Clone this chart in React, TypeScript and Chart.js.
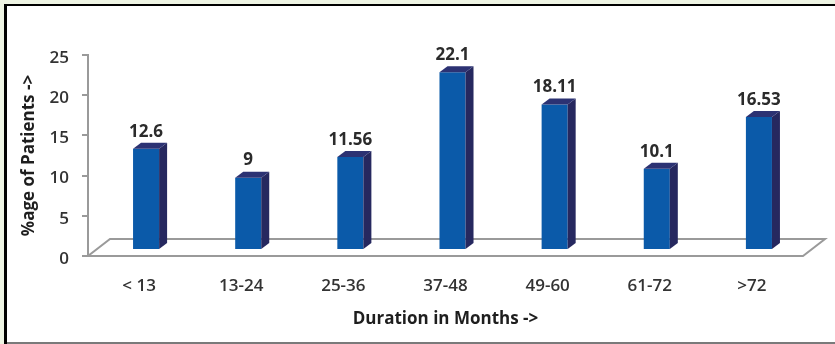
import React, { useEffect, useRef } from "react";
import { Chart, registerables } from "chart.js";

Chart.register(...registerables);

const categories = ["< 13", "13-24", "25-36", "37-48", "49-60", "61-72", ">72"];
const values = [12.6, 9, 11.56, 22.1, 18.11, 10.1, 16.53];
const valueLabels = ["12.6", "9", "11.56", "22.1", "18.11", "10.1", "16.53"];
const yTicks = { min: 0, max: 25, step: 5 };
const xTitle = "Duration in Months ->";
const yTitle = "%age of Patients ->";

const FONT = "'Open Sans', sans-serif";
const FRONT = "#0b5aa9";
const SIDE = "#26285f";
const TOP = "#2c3273";
const FLOOR = "#9a9a9a";
const FLOOR_DX = 22;
const FLOOR_DY = -17;
const BAR_SHIFT_X = 7;
const BAR_SHIFT_Y = -6;
const BAR_DX = 8;
const BAR_DY = -6;

const threeD = {
  id: "threeD",
  beforeDraw(chart: any) {
    const ctx = chart.ctx;
    const W = chart.width;
    const H = chart.height;
    ctx.save();
    ctx.fillStyle = "#eef4e3";
    ctx.fillRect(0, 0, W, H);
    ctx.fillStyle = "#ffffff";
    ctx.fillRect(4, 4, W - 4, H - 4);
    ctx.fillStyle = "#000000";
    ctx.fillRect(4, 4, 3, H - 4);
    ctx.fillRect(4, 4, W - 4, 2);
    ctx.fillStyle = "#7a7a7a";
    ctx.fillRect(7, H - 2, W - 7, 2);
    ctx.restore();
  },
  beforeDatasetsDraw(chart: any) {
    const ctx = chart.ctx;
    const { left, right, bottom } = chart.chartArea;
    ctx.save();
    ctx.strokeStyle = FLOOR;
    ctx.lineWidth = 2;
    ctx.lineJoin = "miter";
    ctx.beginPath();
    ctx.moveTo(left, bottom);
    ctx.lineTo(right, bottom);
    ctx.lineTo(right + FLOOR_DX, bottom + FLOOR_DY);
    ctx.lineTo(left + FLOOR_DX, bottom + FLOOR_DY);
    ctx.closePath();
    ctx.stroke();
    ctx.restore();
    ctx.save();
    ctx.translate(BAR_SHIFT_X, BAR_SHIFT_Y);
  },
  afterDatasetsDraw(chart: any) {
    const ctx = chart.ctx;
    ctx.restore();
    const meta = chart.getDatasetMeta(0);
    ctx.save();
    ctx.translate(BAR_SHIFT_X, BAR_SHIFT_Y);
    meta.data.forEach((bar: any, i: number) => {
      const { x, y, base, width } = bar.getProps(["x", "y", "base", "width"], true);
      const xl = x - width / 2;
      const xr = x + width / 2;
      ctx.fillStyle = SIDE;
      ctx.beginPath();
      ctx.moveTo(xr, y);
      ctx.lineTo(xr + BAR_DX, y + BAR_DY);
      ctx.lineTo(xr + BAR_DX, base + BAR_DY);
      ctx.lineTo(xr, base);
      ctx.closePath();
      ctx.fill();
      ctx.fillStyle = TOP;
      ctx.beginPath();
      ctx.moveTo(xl, y);
      ctx.lineTo(xl + BAR_DX, y + BAR_DY);
      ctx.lineTo(xr + BAR_DX, y + BAR_DY);
      ctx.lineTo(xr, y);
      ctx.closePath();
      ctx.fill();
      ctx.fillStyle = "#2b2b2b";
      ctx.font = `bold 17px ${FONT}`;
      ctx.textAlign = "center";
      ctx.textBaseline = "middle";
      ctx.fillText(valueLabels[i], x, y - 17);
    });
    ctx.restore();
  },
};

export default function App() {
  const ref = useRef<HTMLCanvasElement>(null);
  useEffect(() => {
    const chart = new Chart(ref.current as HTMLCanvasElement, {
      type: "bar",
      data: {
        labels: categories,
        datasets: [
          {
            data: values,
            backgroundColor: FRONT,
            borderWidth: 0,
            categoryPercentage: 1,
            barPercentage: 0.255,
            clip: false as any,
          },
        ],
      },
      options: {
        responsive: false,
        animation: false,
        devicePixelRatio: 1,
        layout: { padding: { left: 0, right: 32, top: 55, bottom: 0 } },
        plugins: { legend: { display: false }, tooltip: { enabled: false } },
        scales: {
          x: {
            grid: { display: false, drawTicks: false },
            border: { display: false },
            ticks: { padding: 20, color: "#333", font: { family: FONT, size: 17, weight: "600" } },
            title: {
              display: true,
              text: xTitle,
              color: "#1e1e1e",
              font: { family: FONT, size: 17, weight: "bold" },
              padding: { top: 0, bottom: 15 },
            },
            afterFit: (s: any) => {
              s.height = 88;
            },
          },
          y: {
            min: yTicks.min,
            max: yTicks.max,
            ticks: {
              stepSize: yTicks.step,
              padding: 13,
              labelOffset: 3,
              color: "#333",
              font: { family: FONT, size: 17, weight: "600" },
            },
            grid: { drawOnChartArea: false, drawTicks: true, tickLength: 6, color: FLOOR, lineWidth: 2 },
            border: { display: true, color: FLOOR, width: 2 },
            title: {
              display: true,
              text: yTitle,
              color: "#1e1e1e",
              font: { family: FONT, size: 17, weight: "bold" },
              padding: { top: 19, bottom: 0 },
            },
            afterFit: (s: any) => {
              s.width = 88;
            },
          },
        },
      },
      plugins: [threeD],
    });
    return () => chart.destroy();
  }, []);
  return (
    <div style={{ position: "absolute", left: 0, top: 0 }}>
      <canvas ref={ref} width={835} height={344} style={{ display: "block" }} />
    </div>
  );
}
